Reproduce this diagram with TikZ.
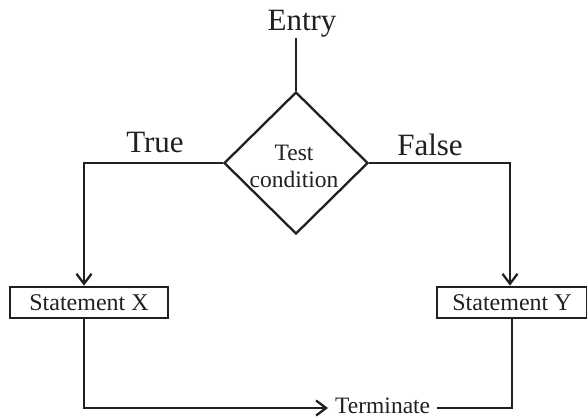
\documentclass[tikz,border=0pt]{standalone}
\usepackage{fontspec}
\setmainfont{Liberation Serif}
\usetikzlibrary{shapes.geometric,arrows.meta}
\definecolor{ink}{RGB}{35,31,32}
\begin{document}
\begin{tikzpicture}[x=1pt,y=-1pt,
    conn/.style={draw=ink,line width=2.3pt},
    flow/.style={conn,-{Straight Barb[length=10pt,width=15pt]}},
    bigtext/.style={text=ink,font=\fontsize{31}{33}\selectfont,inner sep=0pt},
    smalltext/.style={text=ink,font=\fontsize{23.5}{27}\selectfont,inner sep=0pt},
    decision/.style={diamond,draw=ink,line width=2.3pt,minimum width=144pt,minimum height=142pt,inner sep=0pt},
    stmtbox/.style={rectangle,draw=ink,line width=2.6pt,minimum height=31pt,inner sep=0pt,text=ink,font=\fontsize{24}{27}\selectfont}]
  \useasboundingbox (0,0) rectangle (587,418);

  % entry point and decision
  \node[bigtext,anchor=base] (entry) at (302,30) {Entry};
  \coordinate (entrybot) at (296,38);
  \node[decision] (test) at (296,163) {};
  \node[smalltext,align=center] (testtext) at (294,166) {Test\\condition};
  \draw[conn] (entrybot) -- (test.north);

  % branch labels
  \node[bigtext,anchor=base] (true) at (155,152) {True};
  \node[bigtext,anchor=base] (false) at (430,155) {False};

  % statements
  \node[stmtbox,minimum width=158pt] (sx) at (89,302.5) {Statement X};
  \node[stmtbox,minimum width=150pt] (sy) at (512,302.5) {Statement Y};

  \coordinate (lx) at (84,163);
  \coordinate (rx) at (510,163);
  \draw[flow] (test.west) -- (lx) -- (lx |- sx.north);
  \draw[flow] (test.east) -- (rx) -- (rx |- sy.north);

  % termination
  \node[smalltext,anchor=base west] (term) at (335,413) {Terminate};
  \coordinate (bl) at (84,408);
  \coordinate (br) at (512,408);
  \coordinate (tl) at (328,408);
  \coordinate (tr) at (437,408);
  \draw[flow] (lx |- sx.south) -- (bl) -- (tl);
  \draw[conn] (sy.south -| br) -- (br) -- (tr);
\end{tikzpicture}
\end{document}
